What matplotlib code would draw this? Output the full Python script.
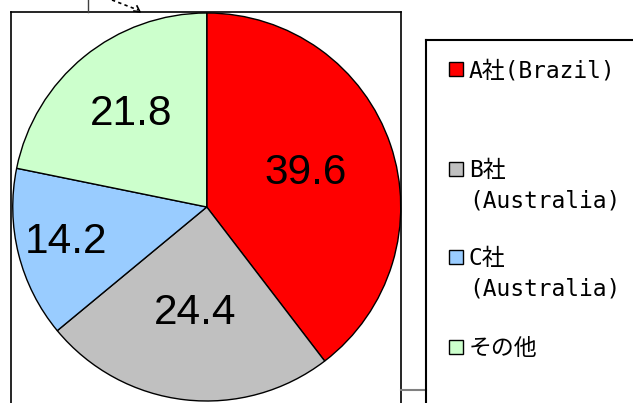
import matplotlib
matplotlib.use("Agg")
import matplotlib.pyplot as plt
from matplotlib.patches import Rectangle
from matplotlib.lines import Line2D
import numpy as np

# ---- data ----
labels = ["A社(Brazil)", "B社\n(Australia)", "C社\n(Australia)", "その他"]
values = [39.6, 24.4, 14.2, 21.8]
value_labels = ["39.6", "24.4", "14.2", "21.8"]

# ---- style / layout ----
colors = ["#FF0000", "#C0C0C0", "#99CCFF", "#CCFFCC"]
label_radius = [0.54, 0.55, 0.75, 0.62]
legend_baselines = [[77], [177, 208], [265, 296], [355]]
W, H = 633, 403

def fx(x):
    return x / W

def fy(y):
    return 1 - y / H

fig = plt.figure(figsize=(W / 100, H / 100), dpi=100)
fig.patch.set_facecolor("white")

# pie axes: center (206.75, 207), radius 194 px
cx, cy, r = 206.75, 207.0, 194.0
ax = fig.add_axes([fx(cx - r), fy(cy + r), 2 * r / W, 2 * r / H])
wedges, _ = ax.pie(values, colors=colors, startangle=90, counterclock=False,
                   radius=1.0, wedgeprops=dict(edgecolor="black", linewidth=1.0))
ax.set_xlim(-1, 1)
ax.set_ylim(-1, 1)
ax.set_aspect("auto")
ax.axis("off")

num_font = dict(family=["Liberation Sans", "DejaVu Sans"], fontsize=30.5)
for w, txt, lr in zip(wedges, value_labels, label_radius):
    mid = np.deg2rad((w.theta1 + w.theta2) / 2)
    ax.text(lr * np.cos(mid), lr * np.sin(mid), txt, ha="center", va="center",
            color="black", **num_font)

# plot-area frame
fig.add_artist(Line2D([fx(11), fx(11)], [fy(12.3), fy(410)], color="black", lw=1.2))
fig.add_artist(Line2D([fx(11), fx(401)], [fy(12.3), fy(12.3)], color="black", lw=1.2))
fig.add_artist(Line2D([fx(401), fx(401)], [fy(12.3), fy(410)], color="black", lw=1.2))
fig.add_artist(Line2D([fx(401), fx(426)], [fy(390), fy(390)], color="#808080", lw=1.5))

# artifacts at top
fig.add_artist(Line2D([fx(88), fx(88)], [fy(0), fy(12)], color="#404040", lw=1.0))
fig.add_artist(Line2D([fx(112), fx(138)], [fy(0), fy(10)], color="black", lw=1.2,
                      linestyle=(0, (2, 2))))
fig.add_artist(Line2D([fx(134), fx(140), fx(137)], [fy(11), fy(12), fy(6)],
                      color="black", lw=1.2))

# legend box
fig.add_artist(Line2D([fx(426), fx(426)], [fy(40), fy(410)], color="black", lw=1.5))
fig.add_artist(Line2D([fx(426), fx(640)], [fy(40), fy(40)], color="black", lw=1.5))

leg_font = dict(family=["DejaVu Sans Mono", "Noto Sans CJK JP"], fontsize=16.5)
for lab, col, bls in zip(labels, colors, legend_baselines):
    b0 = bls[0]
    fig.add_artist(Rectangle((fx(449), fy(b0 - 1)), 14 / W, 14 / H, facecolor=col,
                             edgecolor="black", linewidth=1.0,
                             transform=fig.transFigure))
    for line, bl in zip(lab.split("\n"), bls):
        fig.text(fx(469), fy(bl), line, ha="left", va="baseline", color="black",
                 **leg_font)

fig.savefig("out.png", dpi=100, facecolor="white")
